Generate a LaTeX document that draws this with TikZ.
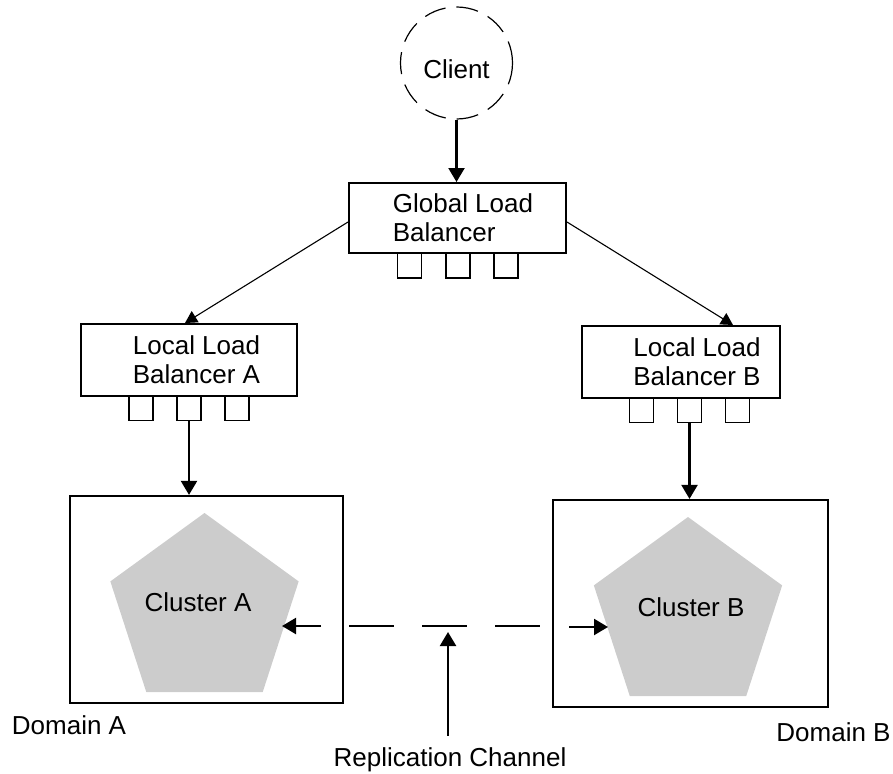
\documentclass[tikz,border=0pt]{standalone}
\usepackage{fontspec}
\setmainfont{Liberation Sans}
\usetikzlibrary{arrows.meta, shapes.geometric}

\begin{document}
\begin{tikzpicture}[x=1pt, y=-1pt,
  every node/.style={font=\fontsize{26}{29}\selectfont},
  lbbox/.style={draw=black, line width=2pt, rectangle, inner sep=0pt},
  port/.style={draw=black, line width=1.8pt, rectangle, minimum width=24pt, minimum height=25pt, inner sep=0pt},
  domainbox/.style={draw=black, line width=2.2pt, rectangle, inner sep=0pt},
  cluster/.style={regular polygon, regular polygon sides=5, fill=black!20, minimum size=198pt, inner sep=0pt},
  thinarrow/.style={-{Triangle[length=12pt,width=13pt]}, line width=1.1pt},
  thickarrow/.style={-{Triangle[length=14pt,width=16pt]}, line width=2.2pt}]

\useasboundingbox (0,0) rectangle (893,773);

% Client
\node[draw=black, circle, dash pattern=on 22pt off 11pt, line width=1.2pt, minimum size=112pt, inner sep=0pt,
  label={[yshift=-6pt]center:Client}] (client) at (456.5,63) {};

% Global load balancer
\node[lbbox, minimum width=217pt, minimum height=70pt,
  label={[xshift=5.5pt, align=left]center:Global Load\\Balancer}] (glb) at (457.5,218) {};
\foreach \i/\px in {1/409.5, 2/458, 3/506}
  \node[port] (g\i) at (\px,265.5) {};

% Local load balancers
\node[lbbox, minimum width=216pt, minimum height=72pt,
  label={[xshift=7.5pt, align=left]center:Local Load\\Balancer A}] (lba) at (189,360) {};
\foreach \i/\px in {1/141, 2/189, 3/237}
  \node[port] (la\i) at (\px,408) {};

\node[lbbox, minimum width=198pt, minimum height=72pt,
  label={[xshift=16pt, align=left]center:Local Load\\Balancer B}] (lbb) at (681,362) {};
\foreach \i/\px in {1/641.5, 2/689.5, 3/737.5}
  \node[port] (lb\i) at (\px,410) {};

% Domains and clusters
\node[domainbox, minimum width=273pt, minimum height=207pt] (doma) at (206.5,599.5) {};
\node[domainbox, minimum width=275pt, minimum height=207pt] (domb) at (690.5,603.5) {};
\node[cluster, label={[xshift=-6.5pt, yshift=10pt]center:Cluster A}] (cla) at (204.5,612) {};
\node[cluster, label={[xshift=3pt, yshift=9pt]center:Cluster B}] (clb) at (688,616) {};

\node (dla) at (69,725) {Domain A};
\node (dlb) at (833.5,732.5) {Domain B};
\node[inner ysep=12pt] (repl) at (450,760) {Replication Channel};

% Replication channel
\coordinate (tipa) at (282,626);
\coordinate (taila) at (321,626);
\coordinate (tipb) at (608,627);
\coordinate (tailb) at (569,627);
\coordinate (chanl) at (349,626);
\coordinate (chanr) at (541,626);
\coordinate (chantip) at (448,632);
\draw[line width=2.8pt, dash pattern=on 45pt off 28pt] (chanl) -- (chanr);
\draw[thickarrow] (taila) -- (tipa);
\draw[thickarrow] (tailb) -- (tipb);
\draw[thickarrow] (chantip |- repl.north) -- (chantip);

% Connectors
\draw[thickarrow] (client.south) -- (client.south |- glb.north);
\draw[thinarrow] ([yshift=-4pt]glb.west) -- ([xshift=-4pt]lba.north);
\draw[thinarrow] ([yshift=-4pt]glb.east) -- ([xshift=52pt]lbb.north);
\draw[thickarrow] (la2.south) -- (la2.south |- doma.north);
\draw[thickarrow] (lb2.south) -- (lb2.south |- domb.north);

\end{tikzpicture}
\end{document}
